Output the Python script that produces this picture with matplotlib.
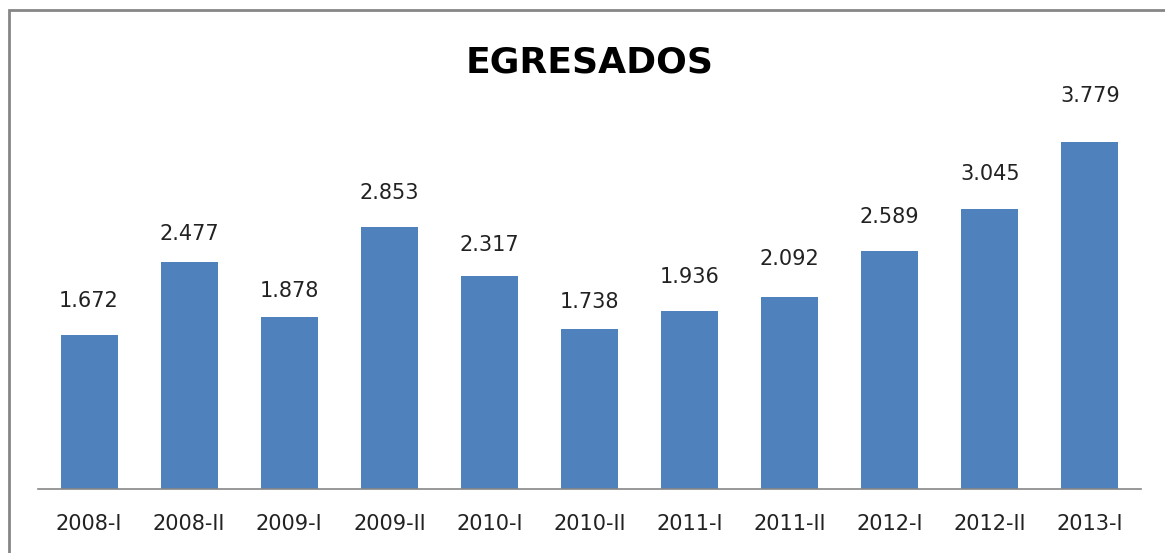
import matplotlib.pyplot as plt
from matplotlib.patches import Rectangle

# Datos
periodos = ['2008-I', '2008-II', '2009-I', '2009-II', '2010-I', '2010-II',
            '2011-I', '2011-II', '2012-I', '2012-II', '2013-I']
egresados = [1672, 2477, 1878, 2853, 2317, 1738, 1936, 2092, 2589, 3045, 3779]
etiquetas = ['1.672', '2.477', '1.878', '2.853', '2.317', '1.738',
             '1.936', '2.092', '2.589', '3.045', '3.779']

# separacion (px) entre la barra y el centro de su etiqueta
sep_px = [34, 28, 26, 34, 31, 27, 34, 38, 34, 35, 46]

W, H = 1165, 553
fig = plt.figure(figsize=(W / 100, H / 100), dpi=100)

# marco gris (solo se ven borde superior e izquierdo)
fig.patches.append(Rectangle((9 / W, -0.1), 1.2, (H - 10) / H + 0.1,
                             transform=fig.transFigure, fill=False,
                             edgecolor='#868686', linewidth=2))

ymax = 4200
px_por_unidad = 347 / 3779
alto = ymax * px_por_unidad
ax = fig.add_axes([38 / W, (H - 489) / H, 1103 / W, alto / H])

x = range(len(periodos))
ax.bar(x, egresados, width=0.57, color='#4F81BD')
for i, (v, t, s) in enumerate(zip(egresados, etiquetas, sep_px)):
    ax.text(i, v + s / px_por_unidad, t, ha='center', va='center',
            fontsize=15, color='#222222')

ax.set_xlim(-0.51, 10.51)
ax.set_ylim(0, ymax)
ax.set_xticks(list(x))
ax.set_xticklabels(periodos, fontsize=15, color='#222222')
ax.tick_params(axis='x', length=0, pad=18)
ax.set_yticks([])
for s in ['top', 'right', 'left']:
    ax.spines[s].set_visible(False)
ax.spines['bottom'].set_color('#868686')
ax.spines['bottom'].set_linewidth(1.2)

fig.text(590 / W, 1 - 63 / H, 'EGRESADOS', ha='center', va='center',
         fontsize=26, fontweight='bold', color='black')

fig.savefig('out.png', dpi=100)
